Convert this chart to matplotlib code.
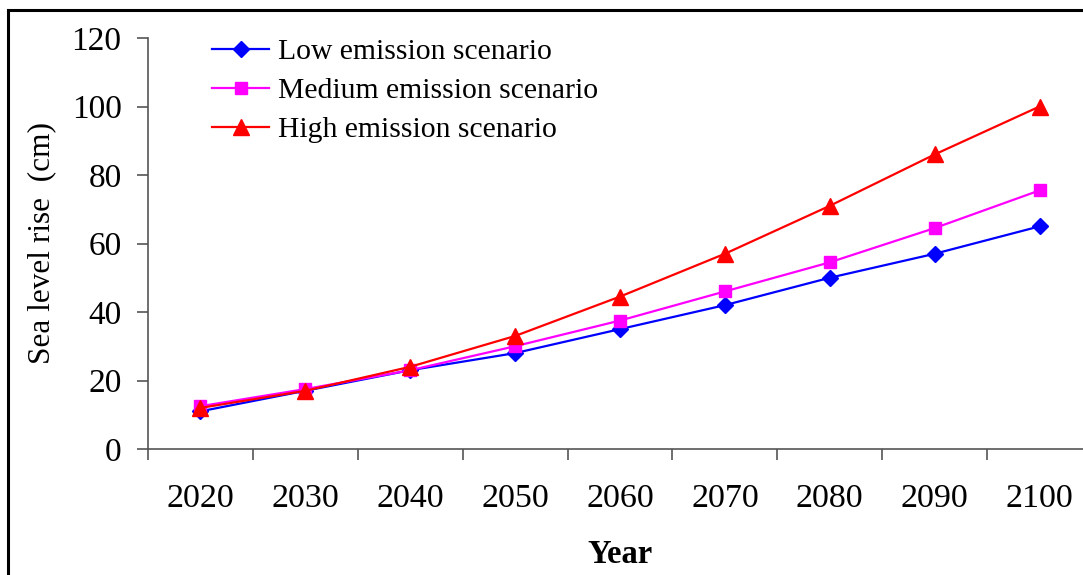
import matplotlib.pyplot as plt
from matplotlib.patches import Rectangle
import numpy as np

plt.rcParams['font.family'] = ['Liberation Serif', 'DejaVu Serif']

years = ['2020', '2030', '2040', '2050', '2060', '2070', '2080', '2090', '2100']
low = [11, 17, 23, 28, 35, 42, 50, 57, 65]
medium = [12.5, 17.5, 23, 30, 37.5, 46, 54.5, 64.5, 75.5]
high = [12, 17, 24, 33, 44.5, 57, 71, 86, 100]

x = np.arange(len(years))

fig = plt.figure(figsize=(10.83, 5.75), dpi=100)
ax = fig.add_axes([148 / 1083, 1 - 449 / 575, 944 / 1083, 411 / 575])

ax.plot(x, low, color='#0000ff', lw=1.6, marker='D', ms=8.5,
        label='Low emission scenario')
ax.plot(x, medium, color='#ff00ff', lw=1.6, marker='s', ms=8.5,
        label='Medium emission scenario')
ax.plot(x, high, color='#ff0000', lw=1.6, marker='^', ms=11,
        label='High emission scenario')

ax.set_xlim(-0.5, len(years) - 0.5)
ax.set_ylim(0, 120)
ax.set_yticks(np.arange(0, 121, 20))

# category axis: tick marks between categories, labels at the centres
ax.set_xticks(np.arange(-0.5, len(years), 1))
ax.set_xticklabels([])
ax.set_xticks(x, minor=True)
ax.set_xticklabels(years, minor=True)
ax.tick_params(axis='x', which='major', direction='out', length=8,
               width=1.2, color='#555555')
ax.tick_params(axis='x', which='minor', length=0, pad=25, labelsize=24.5)
ax.tick_params(axis='y', direction='out', length=8, width=1.2,
               color='#555555', pad=11, labelsize=24)

for side in ('top', 'right'):
    ax.spines[side].set_visible(False)
for side in ('left', 'bottom'):
    ax.spines[side].set_color('#555555')
    ax.spines[side].set_linewidth(1.2)

ax.set_ylabel('Sea level rise  (cm)', fontsize=22.5, labelpad=11)
ax.set_xlabel('Year', fontsize=23.5, fontweight='bold', labelpad=18)

ax.legend(loc='upper left', bbox_to_anchor=(0.055, 1.028), frameon=False,
          fontsize=21.3, handlelength=1.95, handletextpad=0.3,
          labelspacing=0.42, borderaxespad=0)

# outer frame around the chart
fig.patches.append(Rectangle((8 / 1083, -0.1), 1.2, 1 - 10 / 575 + 0.1,
                             transform=fig.transFigure, fill=False,
                             edgecolor='black', linewidth=2.2))

fig.savefig('out.png', dpi=100)
